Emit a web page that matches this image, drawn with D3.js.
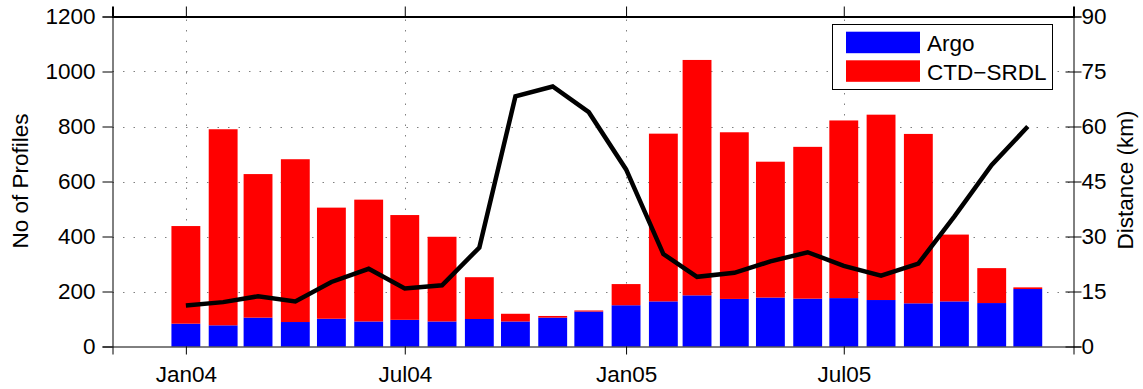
<!DOCTYPE html>
<html>
<head>
<meta charset="utf-8">
<script src="https://cdn.jsdelivr.net/npm/d3@7"></script>
<style>
  body { margin: 0; background: #fff; }
  svg { font-family: "Liberation Sans", Arial, sans-serif; }
</style>
</head>
<body>
<svg id="chart" width="1143" height="389"></svg>
<script>
const months = ["2004-01", "2004-02", "2004-03", "2004-04", "2004-05", "2004-06",
  "2004-07", "2004-08", "2004-09", "2004-10", "2004-11", "2004-12",
  "2005-01", "2005-02", "2005-03", "2005-04", "2005-05", "2005-06",
  "2005-07", "2005-08", "2005-09", "2005-10", "2005-11", "2005-12"];
const argo = [83, 77, 105, 89, 101, 91, 97, 91, 100, 91, 105, 127,
  150, 164, 186, 173, 178, 174, 176, 169, 157, 164, 158, 209];
const ctdSrdl = [355, 713, 522, 592, 404, 443, 381, 308, 152, 28, 6, 4,
  77, 610, 856, 606, 494, 552, 646, 674, 616, 243, 127, 6];
const distance = [11.2, 12.1, 13.7, 12.3, 17.6, 21.2, 15.8, 16.7, 27.0, 68.2, 70.9, 63.9,
  48.3, 25.2, 19.0, 20.1, 23.2, 25.7, 22.0, 19.3, 22.6, 35.5, 49.5, 60.0];
const xTicks = ["2004-01", "2004-07", "2005-01", "2005-07"];
const leftTicks = [0, 200, 400, 600, 800, 1000, 1200];
const rightTicks = [0, 15, 30, 45, 60, 75, 90];
const seriesNames = ["Argo", "CTD\u2212SRDL"];

const parse = d3.utcParse("%Y-%m");
const fmt = d3.utcFormat("%b%y");
const dates = months.map(parse);

const plotL = 112.5, plotR = 1073.5, plotT = 16.5, plotB = 346.5;
const svg = d3.select("#chart");

const x = d3.scaleUtc()
  .domain([new Date(Date.UTC(2003, 10, 1)), new Date(Date.UTC(2006, 0, 8))])
  .range([plotL, plotR]);
const y = d3.scaleLinear().domain([0, 1200]).range([plotB, plotT]);
const y2 = d3.scaleLinear().domain([0, 90]).range([plotB, plotT]);

// grid (drawn first so bars sit over it)
const grid = svg.append("g")
  .attr("stroke", "#808080")
  .attr("stroke-width", 1)
  .attr("stroke-dasharray", "1.5,9");
grid.selectAll(".hg")
  .data(leftTicks.slice(1, -1))
  .enter()
  .append("line")
  .attr("x1", plotL).attr("x2", plotR)
  .attr("y1", (d) => Math.round(y(d)) + 0.5)
  .attr("y2", (d) => Math.round(y(d)) + 0.5);
grid.selectAll(".vg")
  .data(xTicks.map(parse))
  .enter()
  .append("line")
  .attr("x1", (d) => Math.round(x(d)) + 0.5)
  .attr("x2", (d) => Math.round(x(d)) + 0.5)
  .attr("y1", plotB).attr("y2", plotT);

// stacked bars
const rows = dates.map((d, i) => ({ date: d, Argo: argo[i], CTD: ctdSrdl[i] }));
const stack = d3.stack().keys(["Argo", "CTD"])(rows);
const colors = ["#0000ff", "#ff0000"];
const barW = x(new Date(Date.UTC(2004, 0, 25))) - x(new Date(Date.UTC(2004, 0, 1)));

svg.append("g")
  .selectAll("g")
  .data(stack)
  .enter()
  .append("g")
  .attr("fill", (d, i) => colors[i])
  .selectAll("rect")
  .data((d) => d)
  .enter()
  .append("rect")
  .attr("x", (d) => x(d.data.date) - barW / 2)
  .attr("width", barW)
  .attr("y", (d) => y(d[1]))
  .attr("height", (d) => y(d[0]) - y(d[1]));

// distance line on right axis
const line = d3.line()
  .x((d, i) => x(dates[i]))
  .y((d) => y2(d));
svg.append("path")
  .datum(distance)
  .attr("d", line)
  .attr("fill", "none")
  .attr("stroke", "#000")
  .attr("stroke-width", 4.5);

// axes
svg.append("g")
  .attr("transform", `translate(0,${plotB})`)
  .call(d3.axisBottom(x).tickValues(xTicks.map(parse)).tickFormat(fmt).tickSizeOuter(0).tickSize(8).tickPadding(12))
  .call((g) => g.selectAll("text").attr("font-size", 22.5).attr("fill", "#000").attr("font-family", null))
  .call((g) => g.selectAll("line, path").attr("stroke", "#000"));

svg.append("g")
  .attr("transform", `translate(0,${plotT})`)
  .call(d3.axisTop(x).tickValues(xTicks.map(parse)).tickFormat("").tickSizeOuter(0).tickSize(10))
  .call((g) => g.select("path").attr("stroke-width", 2))
  .call((g) => g.selectAll("line, path").attr("stroke", "#000"));

svg.append("g")
  .attr("transform", `translate(${plotL},0)`)
  .call(d3.axisLeft(y).tickValues(leftTicks).tickFormat(d3.format("d")).tickSizeOuter(0).tickSize(10).tickPadding(7))
  .call((g) => g.selectAll("text").attr("font-size", 22.5).attr("fill", "#000").attr("font-family", null))
  .call((g) => g.selectAll("line, path").attr("stroke", "#000"));

const rAxis = svg.append("g")
  .attr("transform", `translate(${plotR},0)`)
  .call(d3.axisRight(y2).tickValues(rightTicks).tickSizeOuter(0).tickSize(8).tickPadding(0))
  .call((g) => g.selectAll("text").attr("font-size", 22.5).attr("fill", "#000").attr("font-family", null))
  .call((g) => g.selectAll("line, path").attr("stroke", "#000"));
rAxis.selectAll(".tick line").attr("x1", -8);

// axis titles
svg.append("text")
  .attr("transform", "translate(28,181) rotate(-90)")
  .attr("text-anchor", "middle")
  .attr("font-size", 22.5)
  .text("No of Profiles");
svg.append("text")
  .attr("transform", "translate(1133,180) rotate(-90)")
  .attr("text-anchor", "middle")
  .attr("font-size", 22.5)
  .text("Distance (km)");

// legend
const legend = svg.append("g");
legend.append("rect")
  .attr("x", 832.5).attr("y", 24.5)
  .attr("width", 220).attr("height", 65)
  .attr("fill", "#fff").attr("stroke", "#000");
legend.selectAll(".sw")
  .data(seriesNames)
  .enter()
  .append("rect")
  .attr("x", 846)
  .attr("y", (d, i) => 31.7 + i * 28.6)
  .attr("width", 74)
  .attr("height", 21.5)
  .attr("fill", (d, i) => colors[i]);
legend.selectAll(".lt")
  .data(seriesNames)
  .enter()
  .append("text")
  .attr("x", 927)
  .attr("y", (d, i) => 51 + i * 29)
  .attr("font-size", 22.5)
  .text((d) => d);
</script>
</body>
</html>
